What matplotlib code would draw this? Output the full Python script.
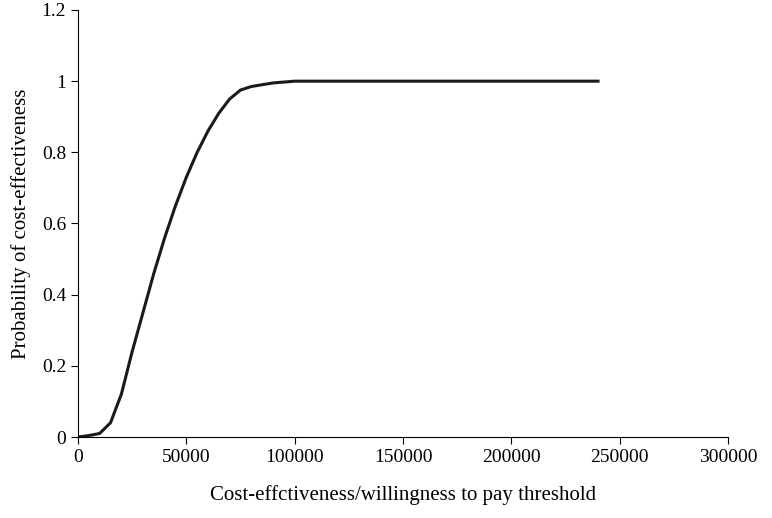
import matplotlib
matplotlib.use("Agg")
import matplotlib.pyplot as plt
import numpy as np

wtp = [0, 5000, 10000, 15000, 20000, 25000, 30000, 35000, 40000, 45000, 50000, 55000,
       60000, 65000, 70000, 75000, 80000, 90000, 100000, 110000, 120000, 150000, 200000, 240000]
prob = [0, 0.004, 0.01, 0.04, 0.12, 0.24, 0.35, 0.46, 0.56, 0.65, 0.73, 0.80,
        0.86, 0.91, 0.95, 0.975, 0.985, 0.995, 1.0, 1.0, 1.0, 1.0, 1.0, 1.0]
xticks = [0, 50000, 100000, 150000, 200000, 250000, 300000]
yticks = [0, 0.2, 0.4, 0.6, 0.8, 1, 1.2]
yticklabels = ["0", "0.2", "0.4", "0.6", "0.8", "1", "1.2"]

plt.rcParams["font.family"] = "Liberation Serif"
fig = plt.figure(figsize=(7.72, 5.18), dpi=100)
ax = fig.add_axes([78/772, 1-437/518, 650/772, 427/518])
ax.plot(wtp, prob, color="#1a1a1a", lw=2.2)
ax.set_xlim(0, 300000)
ax.set_ylim(0, 1.2)
ax.set_xticks(xticks)
ax.set_xticklabels([str(v) for v in xticks])
ax.set_yticks(yticks)
ax.set_yticklabels(yticklabels)
for s in ["top", "right"]:
    ax.spines[s].set_visible(False)
ax.tick_params(labelsize=14, direction="out", length=5)
ax.set_xlabel("Cost-effctiveness/willingness to pay threshold", fontsize=15, labelpad=14)
ax.set_ylabel("Probability of cost-effectiveness", fontsize=15, labelpad=8)
fig.savefig("out.png", dpi=100)
